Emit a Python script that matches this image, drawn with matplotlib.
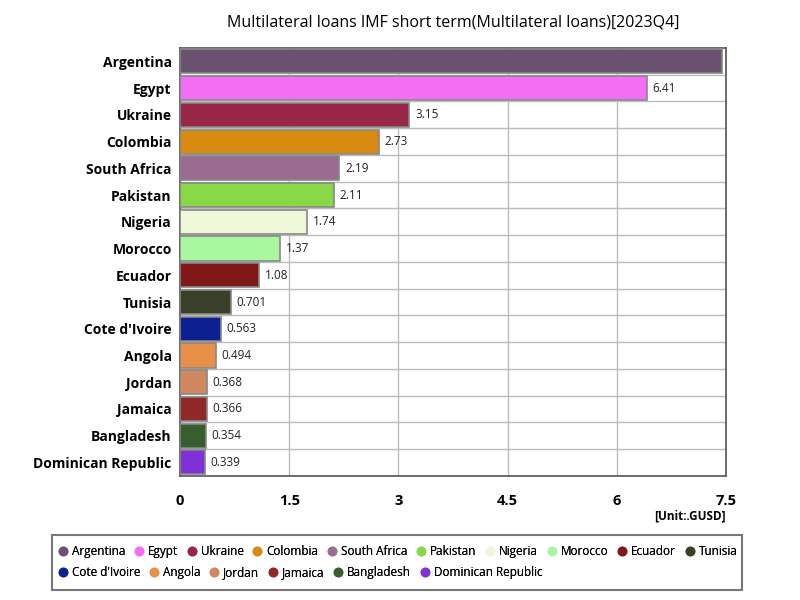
import numpy as np
import matplotlib.pyplot as plt
from matplotlib.patches import Rectangle

plt.rcParams['font.family'] = ['Open Sans', 'DejaVu Sans']

countries = ["Argentina", "Egypt", "Ukraine", "Colombia", "South Africa", "Pakistan",
             "Nigeria", "Morocco", "Ecuador", "Tunisia", "Cote d'Ivoire", "Angola",
             "Jordan", "Jamaica", "Bangladesh", "Dominican Republic"]
values = [7.45, 6.41, 3.15, 2.73, 2.19, 2.11, 1.74, 1.37, 1.08, 0.701, 0.563, 0.494,
          0.368, 0.366, 0.354, 0.339]
labels = ["", "6.41", "3.15", "2.73", "2.19", "2.11", "1.74", "1.37", "1.08", "0.701",
          "0.563", "0.494", "0.368", "0.366", "0.354", "0.339"]
colors = ["#6b5270", "#f46ef4", "#982646", "#d98a10", "#9c6b90", "#88d848",
          "#eef8d8", "#a8f8a0", "#801818", "#384028", "#0c2090", "#e89048",
          "#d08860", "#902828", "#385e30", "#8030d8"]
xticks = [0, 1.5, 3, 4.5, 6, 7.5]

fig = plt.figure(figsize=(8, 6), dpi=100)
ax = fig.add_axes([0.225, 0.207, 0.6825, 0.713])

y = np.arange(len(countries))
ax.barh(y, values, height=0.9, color=colors, edgecolor="#888888", linewidth=1.2, zorder=3)
for yi, v, lab in zip(y, values, labels):
    if lab:
        ax.text(v + 0.08, yi, lab, va="center", ha="left", fontsize=8.5, color="#222222", zorder=4)

ax.set_ylim(len(countries) - 0.5, -0.5)
ax.set_xlim(0, 7.5)
ax.set_yticks(y)
ax.set_yticklabels(countries, fontsize=10, fontweight="bold")
ax.set_xticks(xticks)
ax.set_xticklabels(["0", "1.5", "3", "4.5", "6", "7.5"], fontsize=10.5, fontweight="bold")
ax.tick_params(axis="y", length=0, pad=6)
ax.tick_params(axis="x", length=0, pad=13)
ax.grid(axis="x", color="#bbbbbb", linewidth=1, zorder=0)
for yi in y[:-1]:
    ax.axhline(yi + 0.5, color="#bbbbbb", linewidth=1, zorder=0)
for s in ax.spines.values():
    s.set_color("#555555")
    s.set_linewidth(1.2)

fig.text(0.567, 0.963, "Multilateral loans IMF short term(Multilateral loans)[2023Q4]",
         ha="center", va="center", fontsize=11.5)
fig.text(0.907, 0.14, "[Unit:.GUSD]", ha="right", va="center", fontsize=8.5, fontweight="bold")

# legend frame + two rows laid out like the reference
fig.patches.append(Rectangle((0.065, 0.017), 0.8625, 0.092, transform=fig.transFigure,
                             fill=False, edgecolor="#777777", linewidth=1.5))


def legend_row(idx, ypos):
    handles = [plt.Line2D([], [], marker="o", linestyle="", markersize=6,
                          markerfacecolor=colors[i], markeredgecolor=colors[i]) for i in idx]
    leg = fig.legend(handles, [countries[i] for i in idx], loc="center left",
                     bbox_to_anchor=(0.066, ypos), ncol=len(idx), fontsize=8.5,
                     frameon=False, handletextpad=0.3, columnspacing=0.72,
                     handlelength=0.9, borderaxespad=0)
    fig.add_artist(leg)


legend_row(list(range(10)), 0.081)
legend_row(list(range(10, 16)), 0.046)

fig.savefig("out.png", dpi=100)
